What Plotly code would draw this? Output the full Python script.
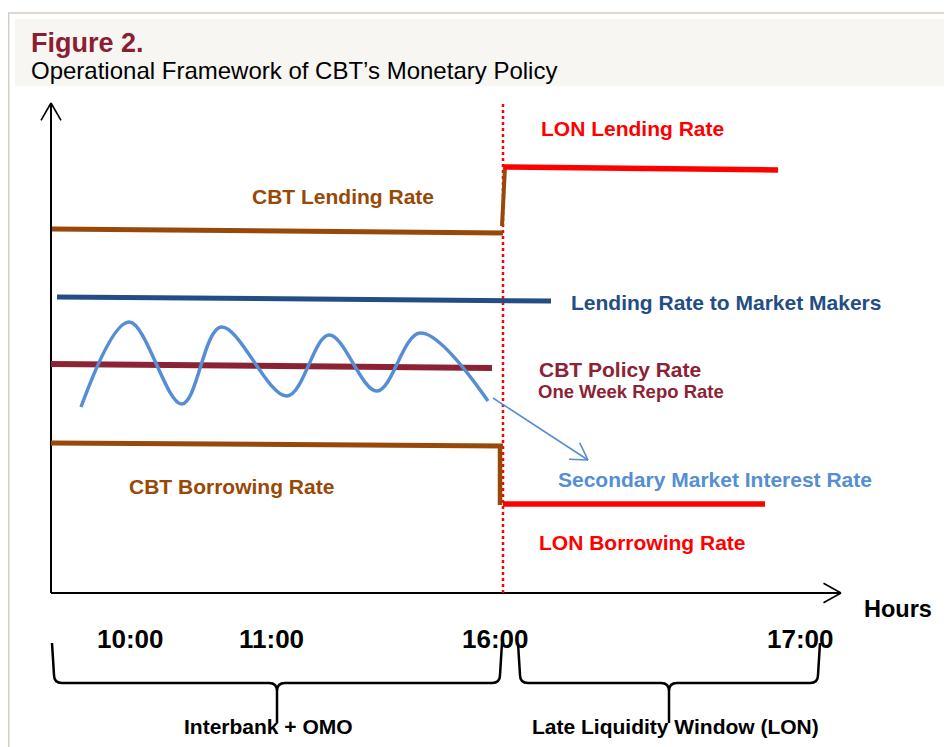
import math
import plotly.graph_objects as go

# ---------------- page geometry ---------------------------------------------------
# The page body has an 8 px margin, so the figure is drawn 8 px smaller and
# offset; all positions below are in page-space schematic units (1 unit = 100 px).
PAGE_W, PAGE_H, OFF = 952, 747, 8
W, H = PAGE_W - OFF, PAGE_H - OFF
OX, OY, U = 51, 593, 100          # axes corner in page pixels, px per unit

# ---------------- data (schematic levels) ----------------
time_labels = ["10:00", "11:00", "16:00", "17:00"]
time_pos = [0.79, 2.20, 4.44, 7.49]
cutoff_x = 4.52                    # 16:00 switch to Late Liquidity Window
cutoff_top = 4.90

cbt_lending_x = [0.01, 4.52]
cbt_lending_y = [3.64, 3.60]
cbt_lending_jump_x = [4.51, 4.54]
cbt_lending_jump_y = [3.67, 4.26]
lon_lending_x = [4.53, 7.27]
lon_lending_y = [4.26, 4.23]

mm_x = [0.06, 5.00]
mm_y = [2.96, 2.92]

policy_x = [0.00, 4.41]
policy_y = [2.29, 2.25]

secondary_x = [0.30, 0.78, 1.31, 1.70, 2.36, 2.78, 3.26, 3.69, 4.37]
secondary_y = [1.86, 2.71, 1.89, 2.66, 1.97, 2.58, 2.02, 2.60, 1.92]
secondary_arrow_x = [4.42, 5.37]
secondary_arrow_y = [1.95, 1.33]

cbt_borrow_x = [0.00, 4.52]
cbt_borrow_y = [1.50, 1.47]
cbt_borrow_jump_x = [4.49, 4.49]
cbt_borrow_jump_y = [1.46, 0.88]
lon_borrow_x = [4.52, 7.14]
lon_borrow_y = [0.89, 0.89]

y_axis_top = 4.90
x_axis_end = 7.90

# periods (braces): start, end, tip position, label position
period_labels = ["Interbank + OMO", "Late Liquidity Window (LON)"]
period_start = [0.01, 4.67]
period_end = [4.51, 7.69]
period_tip = [2.26, 6.18]
period_label_pos = [2.17, 6.24]

# ---------------- colours --------------------------------------------------------
BROWN = "#984807"
RED = "#FF0000"
DARKRED = "#8B2335"
NAVY = "#234D84"
LIGHTBLUE = "#558ED5"
FONT = "Arial, 'Liberation Sans', sans-serif"

fig = go.Figure()


def line(x, y, color, width, dash="solid", shape="linear", smoothing=1.0):
    fig.add_trace(go.Scatter(
        x=x, y=y, mode="lines", hoverinfo="skip", showlegend=False,
        line=dict(color=color, width=width, dash=dash, shape=shape,
                  smoothing=smoothing)))


def chevron(tx, ty, fx, fy, length, ang_deg, color, width):
    """open arrowhead at (tx,ty) for a line coming from (fx,fy)"""
    dx, dy = fx - tx, fy - ty
    n = math.hypot(dx, dy)
    dx, dy = dx / n, dy / n
    xs, ys = [], []
    for s in (1, -1):
        a = math.radians(ang_deg) * s
        ax = dx * math.cos(a) - dy * math.sin(a)
        ay = dx * math.sin(a) + dy * math.cos(a)
        xs += [tx + ax * length, tx, None]
        ys += [ty + ay * length, ty, None]
    line(xs, ys, color, width)


def px_x(p):   # page pixel -> paper fraction
    return (p - OFF) / W


def px_y(p):
    return 1 - (p - OFF) / H


# axes with arrows
line([0, 0], [0, y_axis_top], "black", 2)
chevron(0, y_axis_top, 0, 0, 0.20, 30, "black", 1.6)
line([0, x_axis_end], [0, 0], "black", 2)
chevron(x_axis_end, 0, 0, 0, 0.20, 29, "black", 1.6)

# 16:00 cut-off
line([cutoff_x, cutoff_x], [0, cutoff_top], RED, 2.5, dash="dot")

# rate corridors
line(cbt_lending_x, cbt_lending_y, BROWN, 5)
line(cbt_lending_jump_x, cbt_lending_jump_y, BROWN, 4)
line(lon_lending_x, lon_lending_y, RED, 5.5)
line(mm_x, mm_y, NAVY, 5)
line(policy_x, policy_y, DARKRED, 6)
line(secondary_x, secondary_y, LIGHTBLUE, 3.5, shape="spline", smoothing=1.0)
line(secondary_arrow_x, secondary_arrow_y, LIGHTBLUE, 1.6)
chevron(secondary_arrow_x[1], secondary_arrow_y[1],
        secondary_arrow_x[0], secondary_arrow_y[0], 0.19, 31, LIGHTBLUE, 1.6)
line(cbt_borrow_x, cbt_borrow_y, BROWN, 5)
line(cbt_borrow_jump_x, cbt_borrow_jump_y, BROWN, 4.5)
line(lon_borrow_x, lon_borrow_y, RED, 5.5)

# braces
B_TOP, B_MID, B_TIP, R = -0.50, -0.90, -1.30, 0.08
shapes = []
for x0, x1, xc in zip(period_start, period_end, period_tip):
    p = (f"M {x0},{B_TOP} L {x0+0.02},{B_MID+R} Q {x0+0.02},{B_MID} {x0+0.02+R},{B_MID} "
         f"L {xc-R},{B_MID} Q {xc},{B_MID} {xc},{B_MID-R} L {xc},{B_TIP} "
         f"M {x1},{B_TOP} L {x1-0.02},{B_MID+R} Q {x1-0.02},{B_MID} {x1-0.02-R},{B_MID} "
         f"L {xc+R},{B_MID} Q {xc},{B_MID} {xc},{B_MID-R}")
    shapes.append(dict(type="path", path=p, xref="x", yref="y",
                       line=dict(color="black", width=2.5)))

# page decoration: frame and title band
shapes.append(dict(type="rect", xref="paper", yref="paper",
                   x0=px_x(15), x1=1.0, y0=px_y(86), y1=px_y(19),
                   fillcolor="#F7F6F2", line=dict(width=0), layer="below"))
shapes.append(dict(type="line", xref="paper", yref="paper",
                   x0=px_x(8), x1=1.0, y0=px_y(13), y1=px_y(13),
                   line=dict(color="#D6CDC2", width=1.5)))
shapes.append(dict(type="line", xref="paper", yref="paper",
                   x0=px_x(8.7), x1=px_x(8.7), y0=0, y1=px_y(13),
                   line=dict(color="#D6CDC2", width=1.5)))

ann = []


def label(text, x, y, color, size, xanchor="left", bold=True):
    ann.append(dict(text=f"<b>{text}</b>" if bold else text, x=x, y=y,
                    xref="x", yref="y", showarrow=False, xanchor=xanchor,
                    yanchor="middle", font=dict(family=FONT, size=size, color=color)))


label("LON Lending Rate", 4.88, 4.65, RED, 21)
label("CBT Lending Rate", 1.99, 3.97, BROWN, 21)
label("Lending Rate to Market Makers", 5.18, 2.91, NAVY, 21)
label("CBT Policy Rate", 4.86, 2.24, DARKRED, 21)
label("One Week Repo Rate", 4.85, 2.02, DARKRED, 18.5)
label("Secondary Market Interest Rate", 5.05, 1.14, LIGHTBLUE, 21)
label("CBT Borrowing Rate", 0.76, 1.07, BROWN, 21)
label("LON Borrowing Rate", 4.86, 0.51, RED, 21)
label("Hours", 8.11, -0.16, "black", 23.5)
for t, xp in zip(time_labels, time_pos):
    label(t, xp, -0.455, "black", 26, xanchor="center")
for t, xp in zip(period_labels, period_label_pos):
    label(t, xp, -1.33, "black", 21, xanchor="center")

# title
ann.append(dict(text="<b>Figure 2.</b>", xref="paper", yref="paper",
                x=px_x(29), y=px_y(43), xanchor="left", yanchor="middle",
                showarrow=False, font=dict(family=FONT, size=27, color="#8B1E32")))
ann.append(dict(text="Operational Framework of CBT’s Monetary Policy",
                xref="paper", yref="paper", x=px_x(29), y=px_y(71),
                xanchor="left", yanchor="middle", showarrow=False,
                font=dict(family=FONT, size=24, color="black")))

fig.update_layout(
    width=W, height=H, autosize=False,
    margin=dict(l=0, r=0, t=0, b=0, pad=0),
    paper_bgcolor="white", plot_bgcolor="rgba(0,0,0,0)",
    xaxis=dict(range=[(OFF - OX) / U, (PAGE_W - OX) / U], visible=False, fixedrange=True),
    yaxis=dict(range=[(OY - PAGE_H) / U, (OY - OFF) / U], visible=False, fixedrange=True),
    shapes=shapes, annotations=ann, showlegend=False,
)

fig.write_html("out.html")
